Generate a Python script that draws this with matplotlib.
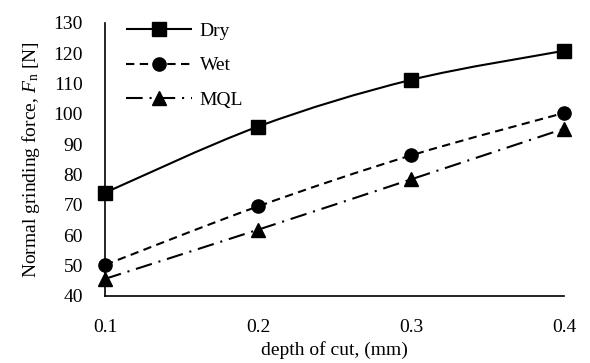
"""Normal grinding force vs depth of cut for dry, wet and MQL conditions."""

import matplotlib
matplotlib.use("Agg")
import matplotlib.pyplot as plt
from matplotlib.path import Path
from matplotlib.patches import PathPatch
from matplotlib.lines import Line2D
import numpy as np

depth = [0.1, 0.2, 0.3, 0.4]
dry = [74.0, 95.8, 111.2, 120.8]
wet = [50.2, 69.5, 86.3, 100.3]
mql = [45.6, 61.8, 78.4, 95.1]

plt.rcParams["font.family"] = ["Liberation Serif", "DejaVu Serif"]
plt.rcParams["mathtext.fontset"] = "custom"
plt.rcParams["mathtext.it"] = "Liberation Serif:italic"
plt.rcParams["mathtext.rm"] = "Liberation Serif"


def smooth_path(x, y, tension=1 / 6):
    # Excel style smoothed line: cubic bezier segments through the points
    x = np.asarray(x, float)
    y = np.asarray(y, float)
    verts = [(x[0], y[0])]
    codes = [Path.MOVETO]
    n = len(x)
    for i in range(n - 1):
        p0 = np.array([x[max(i - 1, 0)], y[max(i - 1, 0)]])
        p1 = np.array([x[i], y[i]])
        p2 = np.array([x[i + 1], y[i + 1]])
        p3 = np.array([x[min(i + 2, n - 1)], y[min(i + 2, n - 1)]])
        c1 = p1 + (p2 - p0) * tension
        c2 = p2 - (p3 - p1) * tension
        verts += [tuple(c1), tuple(c2), tuple(p2)]
        codes += [Path.CURVE4] * 3
    return Path(verts, codes)


fig = plt.figure(figsize=(5.9, 3.63), dpi=100)
ax = fig.add_axes([0.178, 0.185, 0.778, 0.752])

series = [
    ("Dry", dry, "s", (0, ())),
    ("Wet", wet, "o", (0, (4, 2.6))),
    ("MQL", mql, "^", (0, (8, 3.3, 1, 3.3))),
]

handles = []
for label, vals, marker, ls in series:
    patch = PathPatch(smooth_path(depth, vals), fill=False, edgecolor="black",
                      linewidth=1.5, linestyle=ls, clip_on=False)
    ax.add_patch(patch)
    ax.plot(depth, vals, linestyle="none", marker=marker, color="black",
            markersize=9.5, clip_on=False, zorder=3)
    handles.append(Line2D([], [], color="black", linewidth=1.5, linestyle=ls,
                          marker=marker, markersize=9.5, label=label))

ax.set_xlim(0.1, 0.4)
ax.set_ylim(40, 130)
ax.set_xticks(depth)
ax.set_xticklabels(["0.1", "0.2", "0.3", "0.4"])
ax.set_yticks(range(40, 131, 10))
ax.tick_params(length=0, labelsize=14)
ax.tick_params(axis="x", pad=17)
ax.tick_params(axis="y", pad=16)
for side in ["top", "right"]:
    ax.spines[side].set_visible(False)
for side in ["left", "bottom"]:
    ax.spines[side].set_linewidth(1.2)

ax.set_xlabel("depth of cut, (mm)", fontsize=14, labelpad=3)
ax.set_ylabel(r"Normal grinding force, $F_{\mathrm{n}}$ [N]", fontsize=14,
              labelpad=8)

ax.legend(handles=handles, loc="upper left", bbox_to_anchor=(0.007, 1.065),
          frameon=False, fontsize=14, handlelength=3.4, handletextpad=0.4,
          labelspacing=0.85)

fig.savefig("out.png", dpi=100)
